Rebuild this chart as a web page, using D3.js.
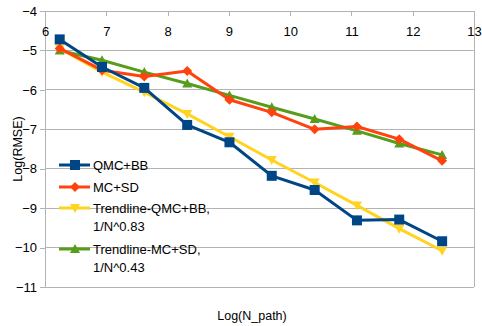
<!DOCTYPE html>
<html>
<head>
<meta charset="utf-8">
<script src="https://cdn.jsdelivr.net/npm/d3@7"></script>
<style>
  html, body { margin: 0; padding: 0; background: #fff; }
  svg { display: block; font-family: "Liberation Sans", Arial, sans-serif; }
</style>
</head>
<body>
<svg id="chart" width="482" height="326"></svg>
<script>
// log of path count (x) and log of RMSE (y) for each method
const logNPath = [6.24, 6.93, 7.62, 8.32, 9.01, 9.70, 10.40, 11.09, 11.78, 12.48];
const qmcBB      = [-4.72, -5.42, -5.95, -6.89, -7.33, -8.18, -8.54, -9.31, -9.29, -9.84];
const mcSD       = [-4.95, -5.50, -5.66, -5.52, -6.25, -6.57, -7.00, -6.93, -7.25, -7.80];
const trendQmcBB = [-4.95, -5.55, -6.06, -6.61, -7.19, -7.78, -8.35, -8.93, -9.52, -10.08];
const trendMcSD  = [-5.00, -5.25, -5.55, -5.84, -6.14, -6.44, -6.74, -7.04, -7.36, -7.65];
const xTicks = [6, 7, 8, 9, 10, 11, 12, 13];
const yTicks = [-4, -5, -6, -7, -8, -9, -10, -11];

const series = [
  { name: ["QMC+BB"], values: qmcBB, color: "#004586", shape: "square" },
  { name: ["MC+SD"], values: mcSD, color: "#ff420e", shape: "diamond" },
  { name: ["Trendline-QMC+BB,", "1/N^0.83"], values: trendQmcBB, color: "#ffd320", shape: "down" },
  { name: ["Trendline-MC+SD,", "1/N^0.43"], values: trendMcSD, color: "#579d1c", shape: "up" }
];

(function draw() {
  const svg = d3.select("#chart");
  const pLeft = 45, pRight = 474, pTop = 11, pBottom = 287;
  const x = d3.scaleLinear().domain([6, 13]).range([pLeft, pRight]);
  const y = d3.scaleLinear().domain([-4, -11]).range([pTop, pBottom]);
  const gridColor = "#b3b3b3";
  const font = "Liberation Sans, Arial, sans-serif";

  // horizontal gridlines
  svg.append("g").selectAll("line").data(yTicks).join("line")
    .attr("x1", pLeft).attr("x2", pRight)
    .attr("y1", d => y(d)).attr("y2", d => y(d))
    .attr("stroke", gridColor).attr("stroke-width", 1).attr("shape-rendering", "crispEdges");

  // plot frame sides
  [pLeft, pRight].forEach(px => {
    svg.append("line").attr("x1", px).attr("x2", px).attr("y1", pTop).attr("y2", pBottom)
      .attr("stroke", gridColor).attr("shape-rendering", "crispEdges");
  });

  // y axis
  const yAxis = svg.append("g").attr("transform", `translate(${pLeft},0)`)
    .call(d3.axisLeft(y).tickValues(yTicks).tickSize(5).tickPadding(3).tickFormat(d3.format("d")));
  yAxis.select(".domain").remove();
  yAxis.selectAll("line").attr("stroke", gridColor).attr("shape-rendering", "crispEdges");
  yAxis.selectAll("text").attr("font-size", 13).attr("fill", "#000").attr("font-family", font);

  // x axis along the top gridline
  const xAxis = svg.append("g").attr("transform", `translate(0,${pTop})`)
    .call(d3.axisBottom(x).tickValues(xTicks).tickSize(5).tickPadding(11).tickFormat(d3.format("d")));
  xAxis.select(".domain").remove();
  xAxis.selectAll("line").attr("stroke", gridColor).attr("shape-rendering", "crispEdges");
  xAxis.selectAll("text").attr("font-size", 13).attr("fill", "#000").attr("font-family", font);

  // marker shapes
  function markerPath(shape) {
    switch (shape) {
      case "square": return "M-5,-5H5V5H-5Z";
      case "diamond": return "M0,-5L5,0L0,5L-5,0Z";
      case "down": return "M-5,-4H5L0,5Z";
      case "up": return "M0,-5L5,4H-5Z";
    }
  }

  const line = d3.line().x((d, i) => x(logNPath[i])).y(d => y(d));

  // draw later series first so the first series sits on top
  series.slice().reverse().forEach(s => {
    const g = svg.append("g");
    g.append("path").datum(s.values).attr("d", line)
      .attr("fill", "none").attr("stroke", s.color).attr("stroke-width", 3)
      .attr("stroke-linejoin", "round");
    g.selectAll("path.m").data(s.values).join("path").attr("class", "m")
      .attr("transform", (d, i) => `translate(${x(logNPath[i])},${y(d)})`)
      .attr("d", markerPath(s.shape)).attr("fill", s.color);
  });

  // legend
  const legendRows = [165, 187, 208, 249];
  const legend = svg.append("g");
  series.forEach((s, i) => {
    const ly = legendRows[i];
    legend.append("line").attr("x1", 59).attr("x2", 90).attr("y1", ly).attr("y2", ly)
      .attr("stroke", s.color).attr("stroke-width", 3);
    legend.append("path").attr("transform", `translate(75,${ly})`)
      .attr("d", markerPath(s.shape)).attr("fill", s.color);
    s.name.forEach((t, k) => {
      legend.append("text").attr("x", 93).attr("y", ly + 5 + k * 18)
        .attr("font-size", 13).attr("fill", "#000").text(t);
    });
  });

  // axis titles
  svg.append("text").attr("x", 252).attr("y", 320).attr("text-anchor", "middle")
    .attr("font-size", 12.5).attr("fill", "#000").text("Log(N_path)");
  svg.append("text").attr("transform", `translate(22,${(pTop + pBottom) / 2}) rotate(-90)`)
    .attr("text-anchor", "middle").attr("font-size", 12.5).attr("fill", "#000").text("Log(RMSE)");
})();
</script>
</body>
</html>
